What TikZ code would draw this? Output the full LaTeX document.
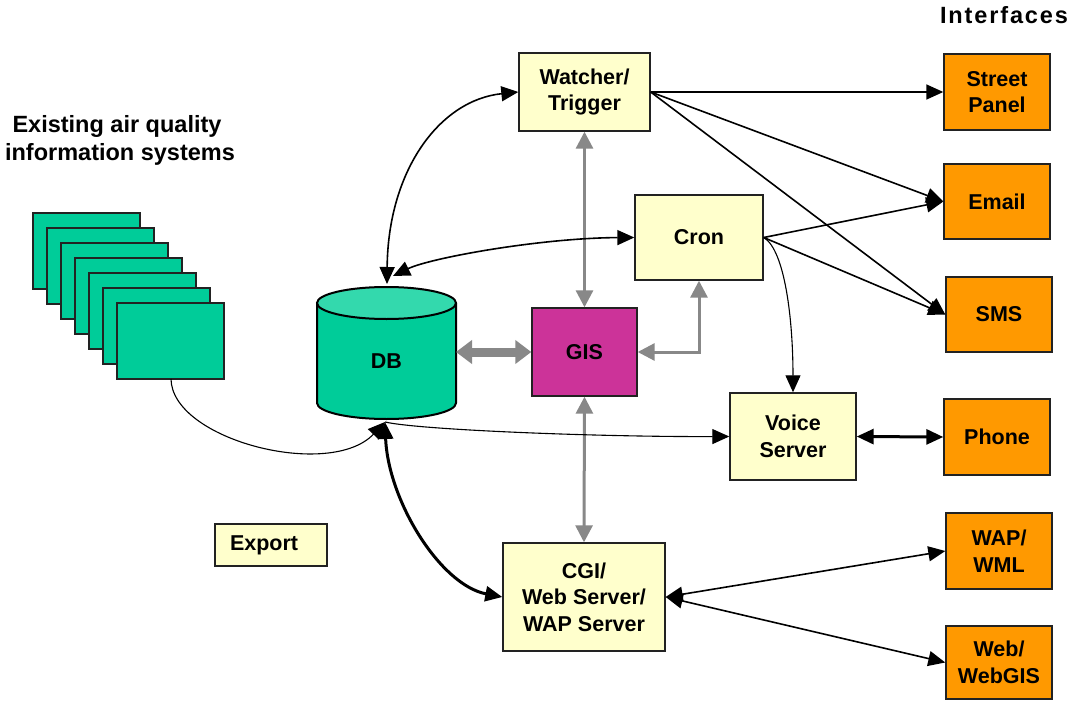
\documentclass[tikz,border=0pt]{standalone}
\usepackage{fontspec}
\setmainfont{Liberation Sans}
\usetikzlibrary{arrows.meta}
\definecolor{ylw}{HTML}{FFFFCC}
\definecolor{org}{HTML}{FF9900}
\definecolor{grn}{HTML}{00CC99}
\definecolor{grntop}{HTML}{33D9AD}
\definecolor{mag}{HTML}{CC3399}
\definecolor{gry}{HTML}{888888}
\definecolor{edgec}{HTML}{222222}
\begin{document}
\begin{tikzpicture}[x=1pt,y=-1pt,
  every node/.style={font=\fontsize{21.5}{26.5}\selectfont\bfseries, align=center, inner sep=0pt},
  boxbase/.style={draw=edgec, line width=1.4pt, rectangle},
  ybox/.style={boxbase, fill=ylw},
  obox/.style={boxbase, fill=org},
  title/.style={font=\fontsize{23.5}{28}\selectfont\bfseries, anchor=base},
  btip/.tip={Triangle[length=17pt,width=15pt]},
  gtip/.tip={Triangle[length=17pt,width=17pt]},
  bigtip/.tip={Triangle[length=16pt,width=23pt]},
  conn/.style={line width=1.6pt, black},
  thin/.style={line width=1.1pt, black},
  thick/.style={line width=3pt, black},
  gconn/.style={line width=3pt, gry, gtip-gtip},
]
\useasboundingbox (0,0) rectangle (1072,701);
\fill[white] (0,0) rectangle (1072,701);

% titles
\node[title] (t1) at (117,132) {Existing air quality};
\node[title] (t2) at (120,160) {information systems};
\node[title] (t3) at (1004,24) {\addfontfeature{LetterSpace=8}Interfaces};

% stacked systems
\foreach \i in {0,...,6} {
  \draw[fill=grn, draw=edgec, line width=1.3pt] (33+14*\i,213+15*\i) rectangle (140+14*\i,289+15*\i);
}
\coordinate (sys) at (171,379);

% DB cylinder
\fill[grn] (317,303) rectangle (456,403);
\fill[grn] (386.5,403) ellipse[x radius=69.5pt, y radius=16pt];
\draw[line width=2pt] (317,303) -- (317,403) arc[start angle=180, end angle=360, x radius=69.5pt, y radius=16pt] -- (456,303);
\draw[line width=2pt, fill=grntop] (386.5,303) ellipse[x radius=69.5pt, y radius=16pt];
\node (db) at (386.5,361) {DB};
\coordinate (dbtop) at (387,284);
\coordinate (dbtopr) at (393,276);
\coordinate (dbbot) at (385,422);
\coordinate (dbright) at (456,352);

% boxes
\node[ybox, minimum width=131, minimum height=78] (watcher) at (584.5,92) {Watcher/\\Trigger};
\node[ybox, minimum width=128, minimum height=85] (cron) at (699,237.5) {Cron};
\node[boxbase, fill=mag, minimum width=105, minimum height=88] (gis) at (584.5,352) {GIS};
\node[ybox, minimum width=126, minimum height=87] (voice) at (793,436.5) {Voice\\Server};
\node[ybox, minimum width=162, minimum height=108] (cgi) at (584,597) {CGI/\\Web Server/\\WAP Server};
\node[ybox, minimum width=112, minimum height=42, text width=82pt, align=left] (export) at (271,545) {Export};

\node[obox, minimum width=106, minimum height=76] (street) at (997,92) {Street\\Panel};
\node[obox, minimum width=106, minimum height=75] (email) at (997,201.5) {Email};
\node[obox, minimum width=106, minimum height=75] (sms) at (999,314.5) {SMS};
\node[obox, minimum width=106, minimum height=76] (phone) at (997,437) {Phone};
\node[obox, minimum width=106, minimum height=76] (wap) at (999,551) {WAP/\\WML};
\node[obox, minimum width=106, minimum height=73] (web) at (999,662.5) {Web/\\WebGIS};

% gray connectors
\draw[line width=9pt, gry, bigtip-bigtip] (dbright) -- (gis.west);
\draw[gconn] (watcher.south) -- (gis.north);
\draw[gconn] (gis.south) -- (cgi.north);
\draw[gconn] (gis.east) -| (cron.south);

% black connectors
\draw[conn, btip-btip] (dbtop) .. controls (388,170) and (440,100) .. (watcher.west);
\draw[conn, btip-btip] (dbtopr) .. controls (430,258) and (540,238) .. (cron.west);
\draw[conn, -btip] (watcher.east) -- (street.west);
\draw[conn, -btip] (watcher.east) -- (email.west);
\draw[conn, -btip] (watcher.east) -- (sms.west);
\draw[conn, -btip] (cron.east) -- (email.west);
\draw[conn, -btip] (cron.east) -- (sms.west);
\draw[thin, -btip] (cron.east) .. controls (785,250) and (793,320) .. (voice.north);
\draw[thin, -btip] (sys) .. controls (172,440) and (330,480) .. (dbbot);
\draw[thin, -btip] (dbbot) .. controls (420,430) and (600,437) .. (voice.west);
\draw[thick, btip-btip] (dbbot) .. controls (388,500) and (440,585) .. (cgi.west);
\draw[thick, btip-btip] (voice.east) -- (phone.west);
\draw[conn, btip-btip] (cgi.east) -- (wap.west);
\draw[conn, btip-btip] (cgi.east) -- (web.west);
\end{tikzpicture}
\end{document}
